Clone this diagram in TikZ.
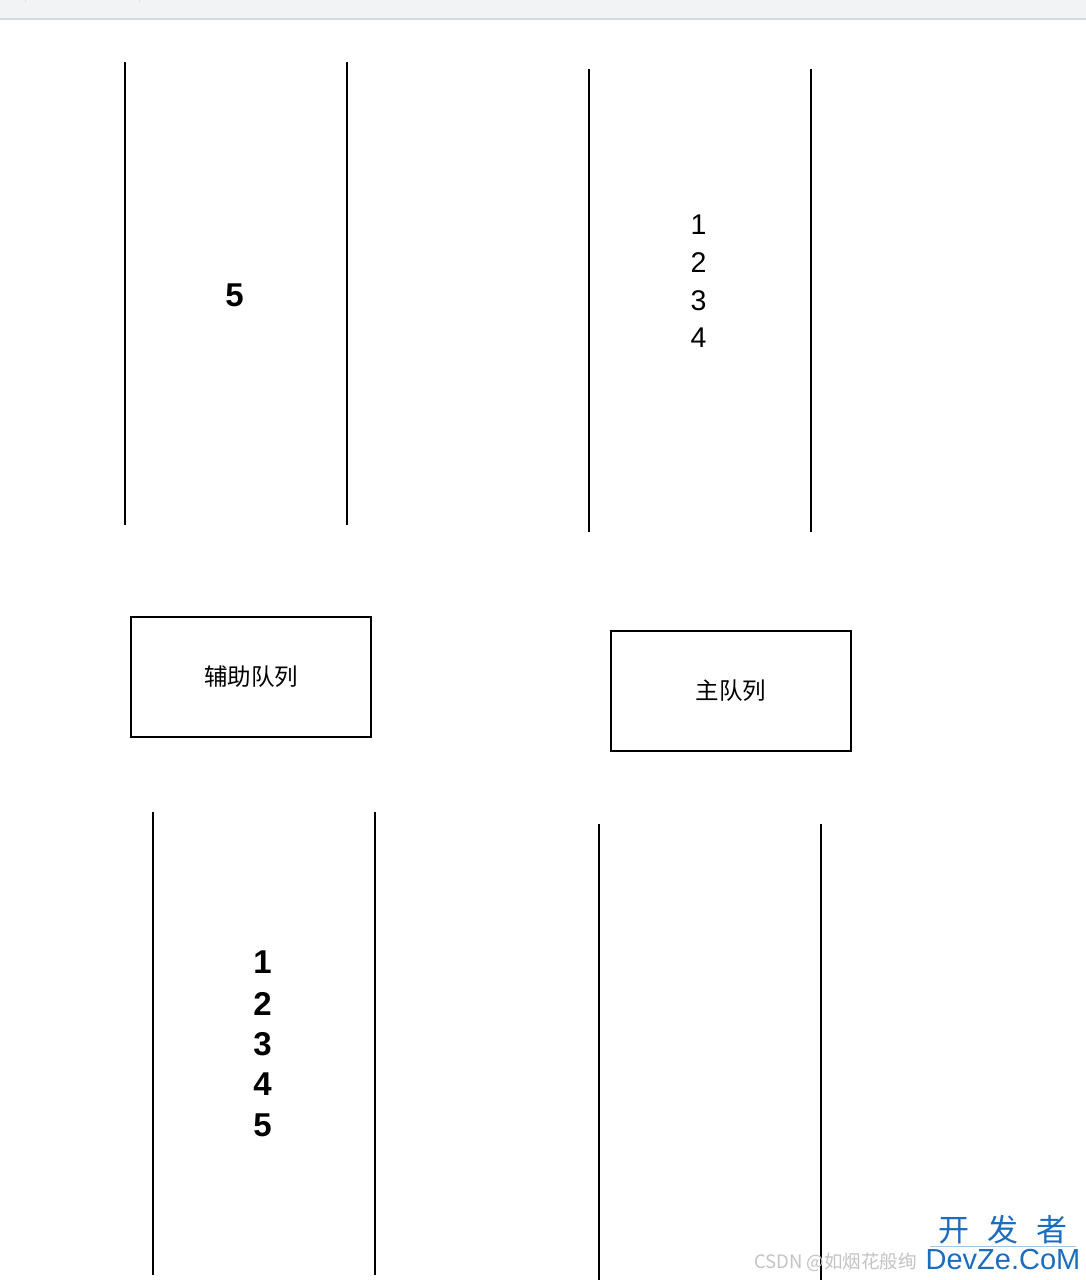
\documentclass[tikz,border=0pt]{standalone}
\usepackage{fontspec}
\setmainfont{Liberation Sans}
\newfontfamily\cjk{Noto Sans CJK SC}
\definecolor{barfill}{HTML}{F2F3F5}
\definecolor{barline}{HTML}{D9DADD}
\definecolor{wmgray}{HTML}{C4C4C4}
\definecolor{wmblue}{HTML}{1A6DBF}
\tikzset{
  qline/.style={line width=2pt, black},
  qbox/.style={draw=black, line width=2pt, minimum width=240pt, minimum height=120pt, inner sep=0pt, font=\cjk\fontsize{23.5}{28}\selectfont},
  numreg/.style={inner sep=0pt, font=\fontsize{28.5}{32}\selectfont},
  numbold/.style={inner sep=0pt, font=\bfseries\fontsize{33}{36}\selectfont},
}
\begin{document}
\begin{tikzpicture}[x=1pt,y=-1pt]
\useasboundingbox (0,0) rectangle (1086,1280);
\fill[white] (0,0) rectangle (1086,1280);
% browser bar
\fill[barfill] (0,0) rectangle (1086,18);
\fill[barline] (0,18) rectangle (1086,20);
\draw[barline, line width=1pt] (25,0) -- (25,2);
\draw[barline, line width=1pt] (139,0) -- (139,2);
% top-left queue
\draw[qline] (125,62) -- (125,525);
\draw[qline] (347,62) -- (347,525);
\node[numbold] (tl5) at (234.5,295) {5};
% top-right queue
\draw[qline] (589,69) -- (589,532);
\draw[qline] (811,69) -- (811,532);
\node[numreg] (tr1) at (698.5,224.5) {1};
\node[numreg] (tr2) at (698.5,262.5) {2};
\node[numreg] (tr3) at (698.5,300.5) {3};
\node[numreg] (tr4) at (698.5,338) {4};
% labels
\node[qbox] (aux) at (251,677) {辅助队列};
\node[qbox] (main) at (731,691) {主队列};
% bottom-left queue
\draw[qline] (153,812) -- (153,1275);
\draw[qline] (375,812) -- (375,1275);
\node[numbold] (bl1) at (262.5,962.5) {1};
\node[numbold] (bl2) at (262.5,1003.5) {2};
\node[numbold] (bl3) at (262.5,1044) {3};
\node[numbold] (bl4) at (262.5,1084.5) {4};
\node[numbold] (bl5) at (262.5,1125) {5};
% bottom-right queue
\draw[qline] (599,824) -- (599,1280);
\draw[qline] (821,824) -- (821,1280);
% watermark
\node[anchor=west, inner sep=0pt, text=wmgray, font=\cjk\fontsize{18.5}{20}\selectfont] (wm) at (754,1262) {CSDN @如烟花般绚};
\node[inner sep=0pt, text=wmblue, font=\cjk\fontsize{31}{32}\selectfont] (logoa) at (1003,1230) {开\hspace{18pt}发\hspace{18pt}者};
\draw[wmblue!40, line width=0.8pt] (930,1246) -- (1076,1246);
\node[inner sep=0pt, text=wmblue, font=\fontsize{29}{32}\selectfont] (logob) at (1003,1260) {DevZe.CoM};
\end{tikzpicture}
\end{document}
